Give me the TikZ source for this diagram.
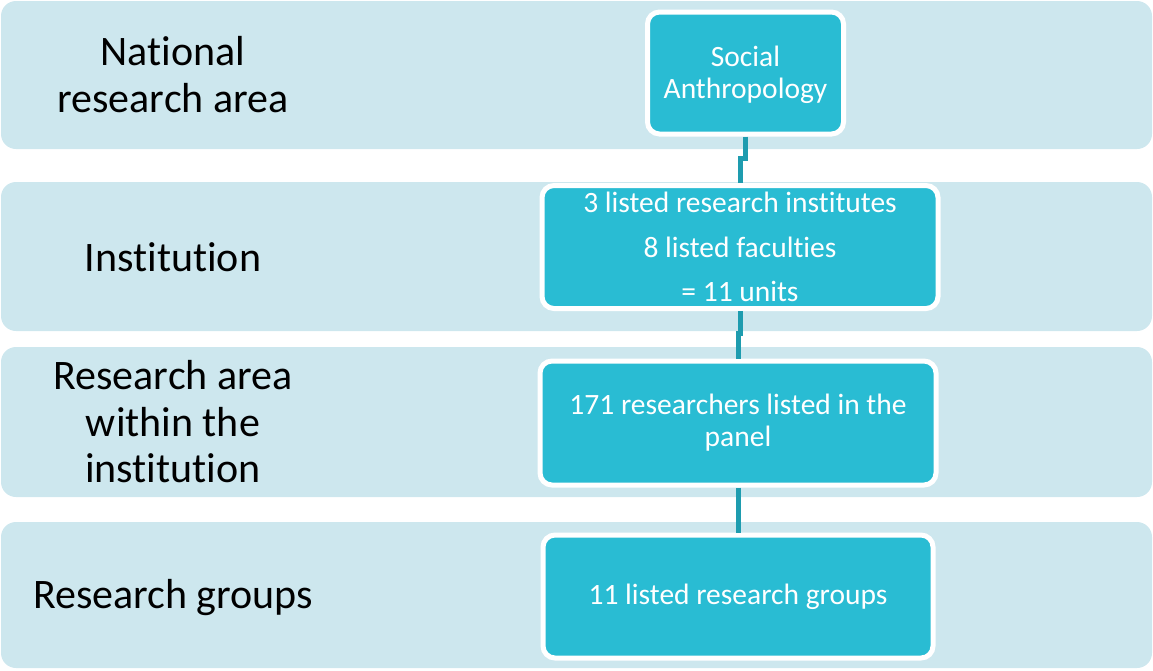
\documentclass[tikz,border=0pt]{standalone}
\usepackage{fontspec}
\setmainfont[Ligatures=NoCommon]{Carlito}
\definecolor{bandcol}{HTML}{CDE7EE}
\definecolor{tealcol}{HTML}{29BCD3}
\definecolor{linkcol}{HTML}{1E9CAF}
\begin{document}
\begin{tikzpicture}[x=1pt,y=-1pt,
  band/.style={fill=bandcol, rounded corners=15pt},
  levellabel/.style={text=black, align=center, font=\fontsize{42}{47}\selectfont},
  unitbox/.style={draw=white, line width=5pt, fill=tealcol, rounded corners=12pt,
    text=white, align=center, font=\fontsize{29.5}{32}\selectfont, inner sep=0pt},
  unittext/.style={text=white, align=center, font=\fontsize{29.5}{32}\selectfont, inner sep=0pt},
  link/.style={draw=linkcol, line width=5pt}]
\useasboundingbox (0,0) rectangle (1153,670);
% bands
\fill[band] (1,1) rectangle (1152,149);
\fill[band] (1,182) rectangle (1152,331);
\fill[band] (1,347) rectangle (1152,497);
\fill[band] (1,522) rectangle (1152,668);
% level labels
\node[levellabel] (l1) at (173,75) {National\\research area};
\node[levellabel] (l2) at (173,257) {Institution};
\node[levellabel, font=\fontsize{42}{46.5}\selectfont] (l3) at (173,422) {Research area\\within the\\institution};
\node[levellabel] (l4) at (173,598) {Research groups};
% connector bends
\coordinate (c1b) at (745.5,158);
\coordinate (c2b) at (740,333);
% unit boxes
\node[unitbox, minimum width=196pt, minimum height=122pt] (b1) at (745.5,73) {};
\node[unittext] (t1) at (745.5,75) {Social\\Anthropology};
\node[unitbox, minimum width=396pt, minimum height=123pt, font=\fontsize{29.5}{44.5}\selectfont] (b2) at (740,247) {3 listed research institutes\\8 listed faculties\\= 11 units};
\node[unitbox, minimum width=396pt, minimum height=124pt] (b3) at (738,423) {171 researchers listed in the\\panel};
\node[unitbox, minimum width=390pt, minimum height=123pt] (b4) at (738,596.5) {11 listed research groups};
\draw[link] (b1.south) -- (c1b) -| (b2.north);
\draw[link] (b2.south) -- (c2b) -| (b3.north);
\draw[link] (b3.south) -- (b4.north);
\end{tikzpicture}
\end{document}
